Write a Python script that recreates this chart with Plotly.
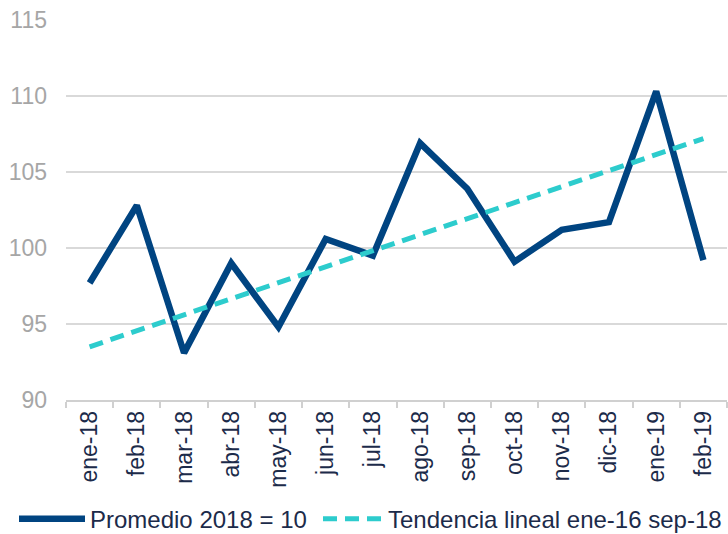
import plotly.graph_objects as go

categories = ["ene-18", "feb-18", "mar-18", "abr-18", "may-18", "jun-18", "jul-18",
              "ago-18", "sep-18", "oct-18", "nov-18", "dic-18", "ene-19", "feb-19"]
promedio = [97.7, 102.8, 93.1, 99.0, 94.8, 100.6, 99.5,
            106.9, 103.9, 99.1, 101.2, 101.7, 110.3, 99.2]
trend_x = ["ene-18", "feb-19"]
trend_y = [93.5, 107.2]
y_ticks = [90, 95, 100, 105, 110, 115]

NAVY = "#004481"
AQUA = "#2DCCCD"
TEXT = "#1c2b4a"
GREY = "#a6a6a6"
FONT = "Liberation Sans, Arial, sans-serif"

fig = go.Figure()
fig.add_trace(go.Scatter(
    x=categories, y=promedio, mode="lines", name="Promedio 2018 = 10",
    line=dict(color=NAVY, width=6.5), legend="legend",
))
fig.add_trace(go.Scatter(
    x=trend_x, y=trend_y, mode="lines", name="Tendencia lineal ene-16 sep-18",
    line=dict(color=AQUA, width=5, dash="14px,8px"), legend="legend2",
))

legend_common = dict(
    orientation="h", xref="container", yref="container",
    y=0.028, xanchor="left", yanchor="middle",
    font=dict(size=24, color=TEXT), bgcolor="rgba(0,0,0,0)",
)

fig.update_layout(
    width=728, height=534,
    margin=dict(l=66, r=1, t=20, b=134),
    paper_bgcolor="white", plot_bgcolor="white",
    font=dict(family=FONT, size=23, color=TEXT),
    showlegend=True,
    legend=dict(x=14 / 728, itemwidth=66, **legend_common),
    legend2=dict(x=318 / 728, itemwidth=60, **legend_common),
    xaxis=dict(
        type="category", categoryorder="array", categoryarray=categories,
        tickangle=-90, tickson="boundaries", ticks="outside", ticklen=6,
        tickcolor="#d0d0d0", tickwidth=1.5,
        showline=True, linecolor="#d0d0d0", linewidth=1.5,
        showgrid=False, zeroline=False,
        tickfont=dict(size=23, color=TEXT),
        range=[-0.5, len(categories) - 0.5], automargin=False,
    ),
    yaxis=dict(
        range=[90, 115], tickvals=y_ticks, showgrid=True,
        gridcolor="#d9d9d9", gridwidth=1.5, zeroline=False, showline=False,
        tickfont=dict(size=23, color=GREY), ticks="", ticklabelstandoff=18,
        automargin=False,
    ),
)

fig.write_html("out.html", config={"displayModeBar": False},
               post_script="document.body.style.margin='0';")
